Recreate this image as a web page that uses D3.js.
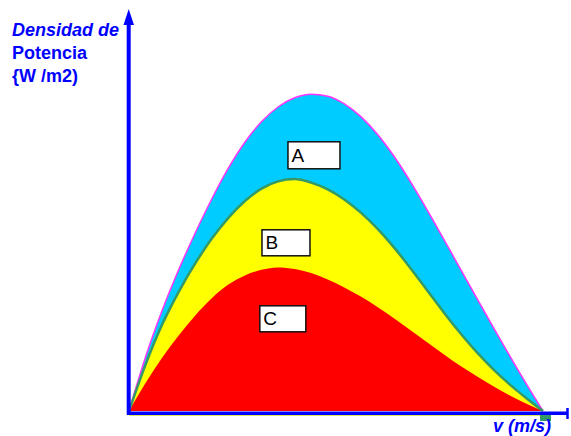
<!DOCTYPE html>
<html>
<head>
<meta charset="utf-8">
<script src="https://cdn.jsdelivr.net/npm/d3@7"></script>
<style>
  body { margin: 0; background: #fff; }
  svg { display: block; font-family: "Liberation Sans", Arial, sans-serif; }
</style>
</head>
<body>
<svg id="chart"></svg>
<script>
const width = 571;
const height = 436;

// wind speed (m/s) and power density curves
const speeds = d3.range(0, 26);
const curveA = [0, 13.5, 25.1, 35.3, 44.5, 53.0, 60.7, 67.2, 72.3, 76.0, 78.3, 79.2, 78.7, 76.8, 73.6, 69.2, 63.7, 57.3, 50.3, 43.0, 35.6, 28.2, 20.9, 13.7, 6.7, 0];
const curveB = [0, 11.6, 21.6, 29.8, 36.9, 43.1, 48.3, 52.5, 55.6, 57.4, 58.0, 57.1, 55.4, 52.9, 49.6, 45.6, 40.9, 35.7, 30.2, 24.7, 19.5, 14.7, 10.4, 6.6, 3.2, 0];
const curveC = [0, 7.0, 13.3, 18.9, 23.9, 28.2, 31.6, 33.9, 35.3, 35.9, 35.5, 34.5, 32.9, 30.9, 28.6, 26.0, 23.2, 20.2, 17.2, 14.2, 11.3, 8.7, 6.2, 3.9, 1.8, 0];
const labels = ["A", "B", "C"];
const yTitle = ["Densidad de", "Potencia", "{W /m2)"];
const xTitle = "v (m/s)";

const series = [
  { name: "A", values: curveA, fill: "#00ccff", stroke: "#ff33ff", sw: 1.5 },
  { name: "B", values: curveB, fill: "#ffff00", stroke: "#339966", sw: 2.5 },
  { name: "C", values: curveC, fill: "#ff0000", stroke: "none", sw: 0 },
];

// label boxes, placed in data units
const boxes = [
  { v: 9.6, top: 67.3, w: 52, h: 27 },
  { v: 8.03, top: 45.3, w: 48, h: 26 },
  { v: 7.9, top: 26.3, w: 46, h: 26 },
];

const svg = d3.select("#chart").attr("width", width).attr("height", height);

const x = d3.scaleLinear().domain([0, 25]).range([129, 543]);
const y = d3.scaleLinear().domain([0, 100]).range([411, 11]);

const area = d3
  .area()
  .x((d, i) => x(speeds[i]))
  .y0(y(0))
  .y1((d) => y(d))
  .curve(d3.curveMonotoneX);
const line = d3
  .line()
  .x((d, i) => x(speeds[i]))
  .y((d) => y(d))
  .curve(d3.curveMonotoneX);

series.forEach((s) => {
  svg.append("path").datum(s.values).attr("d", area).attr("fill", s.fill);
});
series.forEach((s) => {
  if (s.stroke === "none") return;
  svg
    .append("path")
    .datum(s.values)
    .attr("d", line)
    .attr("fill", "none")
    .attr("stroke", s.stroke)
    .attr("stroke-width", s.sw);
});

// faint line under the axis and the green marker at the end
svg
  .append("line")
  .attr("x1", x(0)).attr("x2", x(25))
  .attr("y1", 415.5).attr("y2", 415.5)
  .attr("stroke", "#d8e860").attr("stroke-width", 1);
svg
  .append("rect")
  .attr("x", x(25) - 3).attr("y", 413)
  .attr("width", 11).attr("height", 8)
  .attr("fill", "#339966");

// axes
const blue = "#0000ff";
svg
  .append("line")
  .attr("x1", 127).attr("x2", 568)
  .attr("y1", 413.3).attr("y2", 413.3)
  .attr("stroke", blue).attr("stroke-width", 3.5);
svg
  .append("line")
  .attr("x1", 567.5).attr("x2", 567.5)
  .attr("y1", 408).attr("y2", 419)
  .attr("stroke", blue).attr("stroke-width", 2.5);
svg
  .append("line")
  .attr("x1", 128.7).attr("x2", 128.7)
  .attr("y1", 415).attr("y2", 20)
  .attr("stroke", blue).attr("stroke-width", 4);
svg
  .append("path")
  .attr("d", "M128.7,9 L123.5,25 L134,25 Z")
  .attr("fill", blue);

// label boxes
boxes.forEach((b, i) => {
  const bx = x(b.v);
  const by = y(b.top);
  svg
    .append("rect")
    .attr("x", bx).attr("y", by)
    .attr("width", b.w).attr("height", b.h)
    .attr("fill", "#fff")
    .attr("stroke", "#111").attr("stroke-width", 1.5);
  svg
    .append("text")
    .attr("x", bx + 3.5).attr("y", by + b.h - 7)
    .attr("font-size", 19)
    .attr("fill", "#000")
    .text(labels[i]);
});

// titles
const yt = svg
  .append("text")
  .attr("fill", blue)
  .attr("font-weight", "bold")
  .attr("font-size", 18);
yTitle.forEach((t, i) => {
  yt.append("tspan")
    .attr("x", 12)
    .attr("y", 36 + i * 23)
    .attr("font-style", i === 0 ? "italic" : "normal")
    .text(t);
});

svg
  .append("text")
  .attr("x", 493)
  .attr("y", 432)
  .attr("fill", blue)
  .attr("font-weight", "bold")
  .attr("font-style", "italic")
  .attr("font-size", 18)
  .text(xTitle);
</script>
</body>
</html>
